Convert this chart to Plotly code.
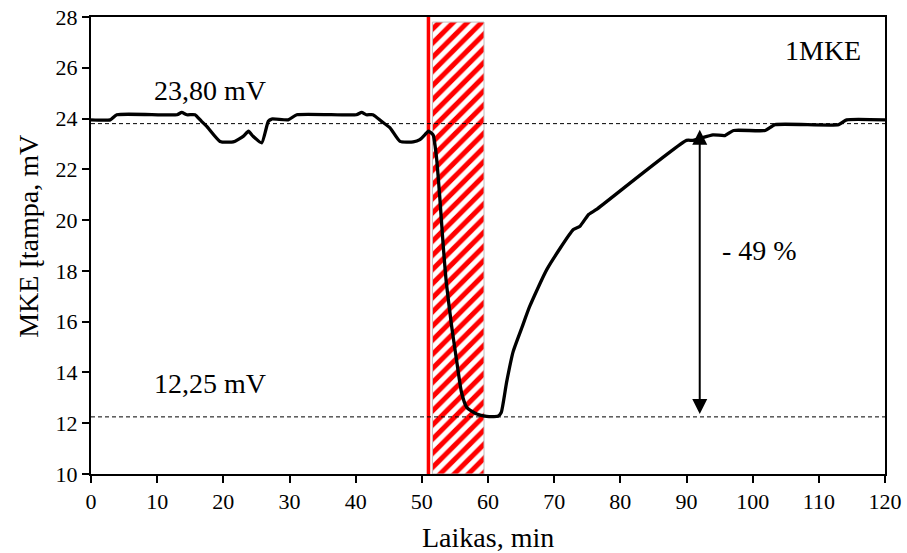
import plotly.graph_objects as go

# ---- data ----
time_min = [0, 2.9, 3.9, 13, 13.7, 14.5, 15.7, 16.7, 17.5, 19.5, 21.5, 23, 23.8, 24.5, 25.8,
            26.8, 27.3, 29.8, 31.1, 40.1, 40.9, 41.6, 42.6, 43.9, 45.2, 46.7, 48.7, 49.7,
            50.7, 51.0, 51.7, 52.2, 52.7, 53.2, 53.7, 54.5, 55.3, 56.0, 56.8, 58.3, 59.8,
            61.5, 62.0, 62.8, 63.8, 65.1, 66.3, 68.9, 72.9, 73.9, 75.2, 76.4, 90.0, 91.0,
            94.0, 95.8, 97.1, 101.9, 103.4, 113.0, 114.2, 120]
voltage_mv = [23.95, 23.95, 24.15, 24.15, 24.24, 24.15, 24.15, 23.89, 23.69, 23.1, 23.08,
              23.3, 23.5, 23.3, 23.04, 23.89, 23.98, 23.95, 24.15, 24.15, 24.24, 24.15,
              24.15, 23.89, 23.63, 23.1, 23.08, 23.17, 23.43, 23.5, 23.36, 22.51, 20.94,
              19.1, 17.54, 15.83, 14.39, 13.21, 12.62, 12.36, 12.27, 12.27, 12.42, 13.6,
              14.82, 15.75, 16.6, 18.06, 19.63, 19.76, 20.22, 20.42, 23.14, 23.14, 23.36,
              23.33, 23.53, 23.53, 23.76, 23.76, 23.95, 23.95]

baseline_mv = 23.80
minimum_mv = 12.25
drop_label = "- 49 %"
baseline_label = "23,80 mV"
minimum_label = "12,25 mV"
series_label = "1MKE"
x_title = "Laikas, min"
y_title = "MKE Įtampa, mV"

event_time = 51.0            # red vertical marker
hatch_start, hatch_end = 51.6, 59.4
hatch_top = 27.8
arrow_time = 92.0
arrow_top, arrow_bottom = 23.62, 12.36

x_range = [0, 120]
y_range = [10, 28]
x_ticks = list(range(0, 121, 10))
y_ticks = list(range(10, 29, 2))

FONT = "Liberation Serif, Times New Roman, serif"
TXT = dict(family=FONT, size=28, color="black")

fig = go.Figure()

# hatched interval
fig.add_trace(go.Scatter(
    x=[hatch_start, hatch_end, hatch_end, hatch_start, hatch_start],
    y=[y_range[0], y_range[0], hatch_top, hatch_top, y_range[0]],
    mode="lines", fill="toself",
    fillcolor="white",
    fillpattern=dict(shape="/", fgcolor="#ff0000", bgcolor="white", fgopacity=1,
                     size=10, solidity=0.5),
    line=dict(color="#bfbfbf", width=1),
    hoverinfo="skip", showlegend=False))

# red vertical line
fig.add_trace(go.Scatter(
    x=[event_time, event_time], y=y_range, mode="lines",
    line=dict(color="#ff0000", width=3.5), hoverinfo="skip", showlegend=False))

# dashed reference levels
for lvl in (baseline_mv, minimum_mv):
    fig.add_trace(go.Scatter(
        x=x_range, y=[lvl, lvl], mode="lines",
        line=dict(color="black", width=1, dash="4px,3px"),
        hoverinfo="skip", showlegend=False))

# main curve
fig.add_trace(go.Scatter(
    x=time_min, y=voltage_mv, mode="lines",
    line=dict(color="black", width=3.3, shape="spline", smoothing=0.5),
    showlegend=False))

annotations = [
    dict(x=arrow_time, y=arrow_bottom, ax=arrow_time, ay=arrow_top,
         xref="x", yref="y", axref="x", ayref="y", text="", showarrow=True,
         arrowhead=2, startarrowhead=2, arrowside="end+start",
         arrowwidth=2, arrowsize=1.5, startarrowsize=1.5, arrowcolor="black"),
    dict(x=18, y=25.12, xref="x", yref="y", text=baseline_label, showarrow=False, font=TXT),
    dict(x=18, y=13.55, xref="x", yref="y", text=minimum_label, showarrow=False, font=TXT),
    dict(x=101.1, y=18.8, xref="x", yref="y", text=drop_label, showarrow=False, font=TXT),
    dict(x=116.7, y=26.67, xref="x", yref="y", text=series_label, showarrow=False,
         xanchor="right", font=TXT),
    dict(x=0.5, y=0, xref="paper", yref="paper", text=x_title, showarrow=False,
         xanchor="center", yanchor="middle", yshift=-63, font=TXT),
    dict(x=0, y=0.519, xref="paper", yref="paper", text=y_title, showarrow=False,
         textangle=-90, xanchor="center", yanchor="middle", xshift=-62, font=TXT),
]

axis_common = dict(showgrid=False, zeroline=False, automargin=False,
                   showline=True, linecolor="black", linewidth=2, mirror=True,
                   ticks="outside", ticklen=7, tickwidth=1.5, tickcolor="black",
                   tickfont=dict(family=FONT, size=22, color="black"))

fig.update_layout(
    width=907, height=553,
    margin=dict(l=91, r=22, t=17, b=79),
    paper_bgcolor="white", plot_bgcolor="white",
    font=dict(family=FONT, size=22, color="black"),
    annotations=annotations,
    xaxis=dict(range=x_range, tickvals=x_ticks, **axis_common),
    yaxis=dict(range=y_range, tickvals=y_ticks, **axis_common),
)

fig.write_html("out.html", config={"displayModeBar": False},
               post_script="document.body.style.margin='0';document.body.style.overflow='hidden';")
